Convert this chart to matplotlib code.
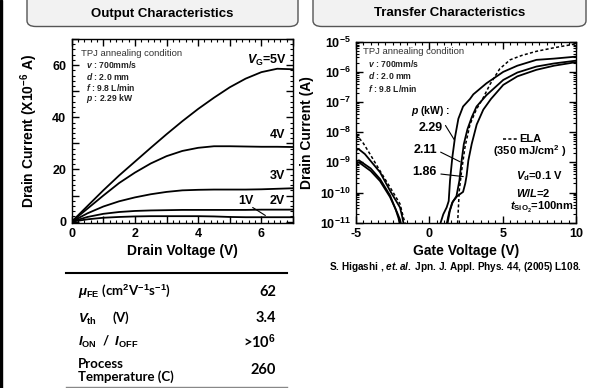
import math
import matplotlib
matplotlib.use("Agg")
import matplotlib.pyplot as plt
from matplotlib import ticker
from matplotlib.patches import FancyBboxPatch, Rectangle
import matplotlib.lines as mlines

# ---------------- data ----------------
# Output characteristics (Id in 1e-6 A)
vd = [0, 0.5, 1, 1.5, 2, 2.5, 3, 3.5, 4, 4.5, 5, 5.5, 6, 6.5, 7]
id_vg5 = [0, 6, 12, 17.7, 23, 28.3, 33.5, 38.5, 43.2, 47.5, 51.5, 54.8, 57.3, 58.6, 58.4]
id_vg4 = [0, 5, 10, 14.8, 18.8, 22.3, 25.1, 27.1, 28.3, 28.9, 28.9, 28.8, 28.7, 28.7, 28.6]
id_vg3 = [0, 3.2, 5.8, 7.8, 9.3, 10.5, 11.4, 12.0, 12.2, 12.3, 12.3, 12.3, 12.4, 12.6, 12.8]
id_vg2 = [0, 1.8, 3.0, 3.7, 4.1, 4.3, 4.4, 4.5, 4.5, 4.5, 4.5, 4.5, 4.6, 4.6, 4.6]
id_vg1 = [0, 0.9, 1.5, 1.8, 2.0, 2.1, 2.1, 2.1, 2.1, 2.0, 1.8, 1.7, 1.7, 1.7, 1.7]

# Transfer characteristics (Id in A), off and on branches
vg_off_229 = [-5, -4.84, -4.4, -3.36, -2.68, -2.0, -1.85, -1.77, -1.72]
id_off_229 = [2.5e-9, 2.8e-9, 1.9e-9, 4.7e-10, 1.15e-10, 3.2e-11, 1.6e-11, 1e-11, 6e-12]
vg_off_211 = [-5, -4.8, -4.0, -3.36, -2.68, -2.3, -2.1, -2.04, -2.0]
id_off_211 = [1.07e-9, 1.17e-9, 6.3e-10, 2.8e-10, 8e-11, 2.8e-11, 1.4e-11, 1e-11, 6e-12]
vg_off_186 = [-5, -4.8, -4.0, -3.36, -2.68, -2.2, -2.0, -1.95, -1.9]
id_off_186 = [8.9e-10, 1.0e-9, 5.2e-10, 2.4e-10, 7.1e-11, 2.2e-11, 1.26e-11, 1e-11, 6e-12]
vg_off_ela = [-5, -4.5, -4.05, -3.36, -2.68, -2.0, -1.77, -1.66, -1.6]
id_off_ela = [8.5e-9, 4.3e-9, 1.9e-9, 5.2e-10, 1.5e-10, 4.2e-11, 1.5e-11, 1e-11, 7e-12]

vg_on_229 = [0.72, 0.77, 0.95, 1.18, 1.32, 1.41, 1.57, 1.75, 1.98, 2.3, 2.77, 3.0, 3.9, 5.04, 6.0, 7.3, 8.5, 10]
id_on_229 = [6.3e-12, 1e-11, 1.9e-11, 3.2e-11, 5.2e-11, 2.5e-10, 1.5e-9, 6.8e-9, 2.8e-8, 7.1e-8,
             1.26e-7, 1.8e-7, 4.2e-7, 1.0e-6, 1.6e-6, 2.5e-6, 2.75e-6, 3.2e-6]
vg_on_211 = [1.15, 1.2, 1.35, 1.55, 1.85, 2.05, 2.2, 2.35, 2.6, 2.9, 3.22, 3.9, 5.04, 6.0, 7.3, 8.5, 10]
id_on_211 = [6.3e-12, 1e-11, 2.2e-11, 4.5e-11, 7.6e-11, 2.5e-10, 1.12e-9, 4.0e-9, 1.26e-8, 3.2e-8,
             7.1e-8, 1.7e-7, 5.4e-7, 9.5e-7, 1.5e-6, 1.9e-6, 2.35e-6]
vg_on_186 = [1.2, 1.25, 1.4, 1.6, 1.9, 2.3, 2.45, 2.54, 2.66, 2.89, 3.23, 3.68, 4.2, 5.04, 6.0, 7.3, 8.5, 10]
id_on_186 = [6.3e-12, 1e-11, 2.5e-11, 5e-11, 7.6e-11, 1.05e-10, 2.0e-10, 3.6e-10, 1.15e-9, 4.1e-9,
             1.8e-8, 5.6e-8, 1.26e-7, 3.7e-7, 7.1e-7, 1.17e-6, 1.6e-6, 2.1e-6]
vg_on_ela = [1.9, 1.93, 2.04, 2.2, 2.43, 2.77, 3.2, 3.68, 4.13, 4.8, 5.5, 6.3, 7.3, 8.5, 10]
id_on_ela = [6.3e-12, 1e-11, 1.15e-10, 5.2e-10, 3.2e-9, 1.8e-8, 5.6e-8, 1.4e-7, 3.8e-7, 1.26e-6,
             2.5e-6, 3.5e-6, 4.8e-6, 6.3e-6, 8.5e-6]

table_labels = [r"$\mathit{\mu}_{\mathrm{FE}}$ (cm$^{2}$V$^{-1}$s$^{-1}$)",
                r"$\mathit{V}_{\mathrm{th}}$     (V)",
                r"$\mathit{I}_{\mathrm{ON}}$  /  $\mathit{I}_{\mathrm{OFF}}$",
                "Process\nTemperature (C)"]
table_values = ["62", "3.4", r">10$^{6}$", "260"]

# ---------------- style ----------------
plt.rcParams['font.family'] = ['Liberation Sans', 'DejaVu Sans']
plt.rcParams['font.weight'] = 'bold'
plt.rcParams['mathtext.fontset'] = 'custom'
plt.rcParams['mathtext.rm'] = 'Liberation Sans:bold'
plt.rcParams['mathtext.it'] = 'Liberation Sans:italic:bold'
plt.rcParams['mathtext.bf'] = 'Liberation Sans:bold'
plt.rcParams['axes.linewidth'] = 1.0

W, H = 598, 388
fig = plt.figure(figsize=(W / 100, H / 100), dpi=100)


def P(x, y):
    return x / W, 1 - y / H


def axes_px(x0, y0, x1, y1):
    return fig.add_axes([x0 / W, 1 - y1 / H, (x1 - x0) / W, (y1 - y0) / H])


# left black strip
fig.patches.append(Rectangle((0, 0), 2 / W, 1, transform=fig.transFigure, color='black'))

# title boxes
for (x0, x1, title) in [(27, 298, "Output Characteristics"), (313, 586, "Transfer Characteristics")]:
    box = FancyBboxPatch((x0 / W, 1 - 26.5 / H), (x1 - x0) / W, 40 / H,
                         boxstyle="round,pad=0,rounding_size=0.015",
                         transform=fig.transFigure, facecolor='#f2f2f2',
                         edgecolor='#555555', linewidth=1.0, clip_on=False)
    fig.patches.append(box)
    fig.text(*P((x0 + x1) / 2, 13.5), title, ha='center', va='center', fontsize=9.5, fontweight='bold')

lw = 1.3

# ---------------- output characteristics ----------------
ax1 = axes_px(71.7, 39, 293, 222.7)
for ys in [id_vg5, id_vg4, id_vg3, id_vg2, id_vg1]:
    ax1.plot(vd, ys, color='black', lw=lw)
ax1.set_xlim(0, 7)
ax1.set_ylim(-0.4, 70)
ax1.xaxis.set_major_locator(ticker.MultipleLocator(1))
ax1.xaxis.set_minor_locator(ticker.MultipleLocator(0.2))
ax1.xaxis.set_major_formatter(ticker.FuncFormatter(lambda v, p: "%d" % v if round(v) % 2 == 0 else ""))
ax1.yaxis.set_major_locator(ticker.MultipleLocator(10))
ax1.yaxis.set_minor_locator(ticker.MultipleLocator(2))
ax1.yaxis.set_major_formatter(ticker.FuncFormatter(lambda v, p: "%d" % v if round(v) % 20 == 0 else ""))
ax1.set_xlabel("Drain Voltage (V)", fontsize=10, fontweight='bold', labelpad=3)
ax1.set_ylabel(r"Drain Current (X10$^{-6}$ A)", fontsize=10, fontweight='bold', labelpad=9)

# ---------------- transfer characteristics ----------------
ax2 = axes_px(356, 41.7, 576, 222.7)
for xs, ys in [(vg_off_229, id_off_229), (vg_off_211, id_off_211), (vg_off_186, id_off_186),
               (vg_on_229, id_on_229), (vg_on_211, id_on_211), (vg_on_186, id_on_186)]:
    ax2.plot(xs, ys, color='black', lw=lw)
for xs, ys in [(vg_off_ela, id_off_ela), (vg_on_ela, id_on_ela)]:
    ax2.plot(xs, ys, color='black', lw=1.1, ls=(0, (2, 1.5)))
ax2.set_yscale('log')
ax2.set_xlim(-5, 10)
ax2.set_ylim(1e-11, 1e-5)
ax2.xaxis.set_major_locator(ticker.MultipleLocator(5))
ax2.xaxis.set_minor_locator(ticker.MultipleLocator(0.5))
ax2.xaxis.set_major_formatter(ticker.FuncFormatter(lambda v, p: "%d" % v))
ax2.yaxis.set_major_locator(ticker.LogLocator(base=10, numticks=20))
ax2.yaxis.set_minor_locator(ticker.LogLocator(base=10, subs=range(2, 10), numticks=20))
ax2.yaxis.set_minor_formatter(ticker.NullFormatter())
ax2.yaxis.set_major_formatter(ticker.FuncFormatter(lambda v, p: r"$\mathrm{10^{%d}}$" % round(math.log10(v))))
ax2.set_xlabel("Gate Voltage (V)", fontsize=10, fontweight='bold', labelpad=3)
ax2.set_ylabel("Drain Current (A)", fontsize=10, fontweight='bold', labelpad=4)

for ax in (ax1, ax2):
    ax.tick_params(which='both', direction='in', top=True, right=True, labelsize=9)
    ax.tick_params(which='major', length=5, width=1.0, pad=4)
    ax.tick_params(which='minor', length=2.5, width=0.8)
    for lab in ax.get_xticklabels() + ax.get_yticklabels():
        lab.set_fontweight('bold')

# ---------------- annotations: left ----------------
fig.text(*P(81, 53.3), "TPJ annealing condition", fontsize=6.8, fontweight='normal', color='#333333', va='center')
cond_left = [(r"$\mathit{v}$ : 700mm/s", 65), (r"$\mathit{d}$ : 2.0 mm", 76.3),
             (r"$\mathit{f}$ : 9.8 L/min", 87.6), (r"$\mathit{p}$ : 2.29 kW", 98.9)]
for s, y in cond_left:
    fig.text(*P(86, y), s, fontsize=6.2, fontweight='bold', color='#222222', va='center')

fig.text(*P(287, 60), r"$\mathit{V}_{\mathrm{G}}$=5V", fontsize=9, ha='right', va='center')
fig.text(*P(285, 135), "4V", fontsize=9, ha='right', va='center')
fig.text(*P(285, 176), "3V", fontsize=9, ha='right', va='center')
fig.text(*P(285, 201), "2V", fontsize=9, ha='right', va='center')
fig.text(*P(254, 201), "1V", fontsize=9, ha='right', va='center')
ax1.annotate("", xy=(6.2, 1.8), xytext=(5.65, 6.0),
             arrowprops=dict(arrowstyle='-', color='black', lw=0.8))

# ---------------- annotations: right ----------------
fig.text(*P(363, 51), "TPJ annealing condition", fontsize=6.8, fontweight='normal', color='#333333', va='center')
cond_right = [(r"$\mathit{v}$ : 700mm/s", 63.5), (r"$\mathit{d}$ : 2.0 mm", 75.8),
              (r"$\mathit{f}$ : 9.8 L/min", 88)]
for s, y in cond_right:
    fig.text(*P(368, y), s, fontsize=6.2, fontweight='bold', color='#222222', va='center')

fig.text(*P(411, 111), r"$\mathit{p}$ (kW) :", fontsize=7.5, va='center')
fig.text(*P(443, 128), "2.29", fontsize=9, ha='right', va='center')
fig.text(*P(437, 150), "2.11", fontsize=9, ha='right', va='center')
fig.text(*P(437, 171.7), "1.86", fontsize=9, ha='right', va='center')
ax2.annotate("", xy=(1.8, 4.7e-9), xytext=(1.0, 2.0e-8),
             arrowprops=dict(arrowstyle='-', color='black', lw=0.8))
ax2.annotate("", xy=(2.27, 9.5e-10), xytext=(0.6, 2.4e-9),
             arrowprops=dict(arrowstyle='-', color='black', lw=0.8))
ax2.annotate("", xy=(2.5, 3.3e-10), xytext=(0.6, 4.2e-10),
             arrowprops=dict(arrowstyle='-', color='black', lw=0.8))

fig.lines.append(mlines.Line2D([503 / W, 517 / W], [1 - 139 / H, 1 - 139 / H], transform=fig.transFigure,
                               color='black', lw=1.1, ls=(0, (2, 1.5))))
fig.text(*P(519, 139), "ELA", fontsize=8, va='center')
fig.text(*P(530, 151.5), r"(350 mJ/cm$^{2}$ )", fontsize=8, ha='center', va='center')
fig.text(*P(516, 176), r"$\mathit{V}_{\mathrm{d}}$=0.1 V", fontsize=8, va='center')
fig.text(*P(516, 193), r"$\mathit{W}$/$\mathit{L}$=2", fontsize=8, va='center')
fig.text(*P(510, 207), r"$\mathit{t}_{\mathrm{SiO_2}}$=100nm", fontsize=8, va='center')

fig.text(*P(329, 267), r"S. Higashi , $\mathit{et.al.}$ Jpn. J. Appl. Phys. 44, (2005) L108.",
         fontsize=7.2, fontweight='bold', va='center')

# ---------------- table ----------------
fig.lines.append(mlines.Line2D([66 / W, 287 / W], [1 - 272.7 / H] * 2, transform=fig.transFigure,
                               color='black', lw=1.5))
fig.lines.append(mlines.Line2D([66 / W, 287 / W], [1 - 386.8 / H] * 2, transform=fig.transFigure,
                               color='#888888', lw=1.0))
row_y = [291.7, 318, 341.7, 370.5]
for lab, val, y in zip(table_labels, table_values, row_y):
    fig.text(*P(78, y), lab, fontsize=9.5, fontweight='bold', family=['Lato', 'DejaVu Sans'],
             va='center', linespacing=1.05)
    fig.text(*P(276, y), val, fontsize=10.5, fontweight='bold', family=['Lato', 'DejaVu Sans'],
             ha='right', va='center')

fig.savefig("out.png", dpi=100)
